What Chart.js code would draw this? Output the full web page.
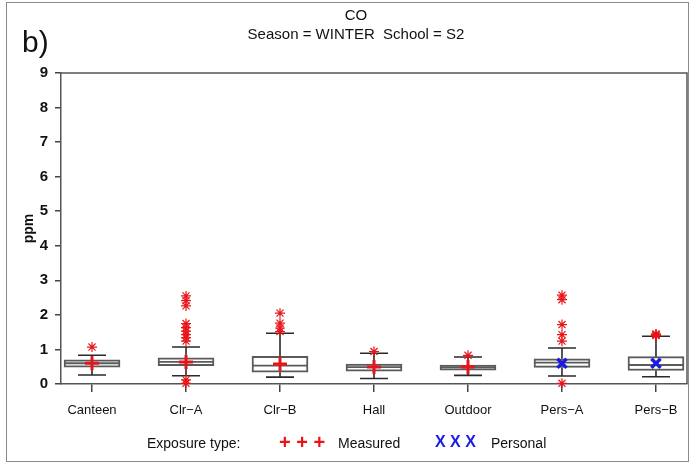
<!DOCTYPE html>
<html>
<head>
<meta charset="utf-8">
<script src="https://cdn.jsdelivr.net/npm/chart.js@4.4.1/dist/chart.umd.min.js"></script>
<style>
  html, body { margin: 0; padding: 0; background: #fff; }
  #wrap { position: relative; width: 690px; height: 465px; overflow: hidden; font-family: 'Liberation Sans', Arial, sans-serif; color: #111; }
  #frame { position: absolute; left: 6px; top: 2px; width: 683px; height: 460px; border: 1px solid #8a8a8a; box-sizing: border-box; pointer-events: none; }
  canvas { position: absolute; left: 0; top: 0; }
  .t { position: absolute; white-space: pre; }
  #title1 { left: 0; width: 712px; text-align: center; top: 6px; font-size: 15px; }
  #title2 { left: 0; width: 712px; text-align: center; top: 25px; font-size: 15px; }
  #panel { left: 22px; top: 25px; font-size: 30px; }
  #leg0 { left: 147px; top: 435px; font-size: 14px; }
  #leg1 { left: 279px; top: 431px; font-size: 20px; font-weight: bold; color: #e8141a; }
  #leg2 { left: 338px; top: 435px; font-size: 14px; }
  #leg3 { left: 435px; top: 433px; font-size: 16px; font-weight: bold; color: #1c1ce0; }
  #leg4 { left: 491px; top: 435px; font-size: 14px; }
</style>
</head>
<body>
<div id="wrap">
  <canvas id="c" width="690" height="465"></canvas>
  <div id="frame"></div>
  <div class="t" id="title1">CO</div>
  <div class="t" id="title2">Season = WINTER  School = S2</div>
  <div class="t" id="panel">b)</div>
  <div class="t" id="leg0">Exposure type:</div>
  <div class="t" id="leg1">+ + +</div>
  <div class="t" id="leg2">Measured</div>
  <div class="t" id="leg3">X X X</div>
  <div class="t" id="leg4">Personal</div>
</div>
<script>
// ---- data ----
const categories   = ['Canteen', 'Clr\u2212A', 'Clr\u2212B', 'Hall', 'Outdoor', 'Pers\u2212A', 'Pers\u2212B'];
const q1           = [0.49, 0.53, 0.34, 0.37, 0.40, 0.48, 0.39];
const medians      = [0.60, 0.64, 0.53, 0.49, 0.48, 0.62, 0.55];
const q3           = [0.70, 0.76, 0.80, 0.58, 0.55, 0.73, 0.79];
const whiskerLow   = [0.26, 0.24, 0.20, 0.16, 0.25, 0.23, 0.21];
const whiskerHigh  = [0.83, 1.07, 1.47, 0.89, 0.78, 1.04, 1.38];
const meanMeasured = [0.60, 0.64, 0.58, 0.49, 0.49, null, null];
const meanPersonal = [null, null, null, null, null, 0.60, 0.60];
const outliers = [
  [1.07],
  [2.55, 2.41, 2.26, 1.75, 1.63, 1.53, 1.43, 1.34, 1.24, 0.12, 0.02],
  [2.05, 1.76, 1.62, 1.52],
  [0.94],
  [0.83],
  [2.57, 2.44, 1.72, 1.43, 1.24, 0.02],
  [1.45, 1.42, 1.40, 1.43]
];
const yTicks = [0, 1, 2, 3, 4, 5, 6, 7, 8, 9];

// ---- build datasets ----
const toPoints = arr => arr.map((v, i) => v === null ? null : { x: i, y: v }).filter(p => p);
const outlierPts = [];
outliers.forEach((list, i) => list.forEach(v => outlierPts.push({ x: i, y: v })));
const boxPts = categories.map((c, i) => ({ x: i, y: [q1[i], q3[i]] }));

Chart.defaults.font.family = "'Liberation Sans', Arial, sans-serif";
Chart.defaults.color = '#111';

const RED = '#e8141a', BLUE = '#1c1ce0', BOXC = '#5a5a5a', WHC = '#2a2a2a';

const boxPlugin = {
  id: 'boxParts',
  afterDatasetDraw(chart, args) {
    if (args.index !== 3) return;
    const ctx = chart.ctx, xs = chart.scales.x, ys = chart.scales.y;
    const capHalf = 14, boxHalf = 28;
    ctx.save();
    categories.forEach((c, i) => {
      const x = xs.getPixelForValue(i);
      ctx.strokeStyle = WHC; ctx.lineWidth = 1.6;
      ctx.beginPath();
      ctx.moveTo(x, ys.getPixelForValue(q3[i])); ctx.lineTo(x, ys.getPixelForValue(whiskerHigh[i]));
      ctx.moveTo(x, ys.getPixelForValue(q1[i])); ctx.lineTo(x, ys.getPixelForValue(whiskerLow[i]));
      ctx.moveTo(x - capHalf, ys.getPixelForValue(whiskerHigh[i])); ctx.lineTo(x + capHalf, ys.getPixelForValue(whiskerHigh[i]));
      ctx.moveTo(x - capHalf, ys.getPixelForValue(whiskerLow[i])); ctx.lineTo(x + capHalf, ys.getPixelForValue(whiskerLow[i]));
      ctx.stroke();
      ctx.strokeStyle = BOXC; ctx.lineWidth = 1.8;
      ctx.beginPath();
      ctx.moveTo(x - boxHalf, ys.getPixelForValue(medians[i])); ctx.lineTo(x + boxHalf, ys.getPixelForValue(medians[i]));
      ctx.stroke();
    });
    ctx.restore();
  },
  afterDraw(chart) {
    const a = chart.chartArea, ctx = chart.ctx;
    ctx.save();
    ctx.strokeStyle = '#555'; ctx.lineWidth = 1.5;
    ctx.beginPath();
    ctx.moveTo(a.left, a.top); ctx.lineTo(a.right, a.top); ctx.lineTo(a.right, a.bottom);
    ctx.stroke();
    ctx.restore();
  }
};

new Chart(document.getElementById('c'), {
  type: 'bar',
  data: {
    datasets: [
      { type: 'scatter', label: 'Measured', data: toPoints(meanMeasured), pointStyle: 'cross', radius: 7, borderWidth: 3, borderColor: RED, backgroundColor: RED, clip: false },
      { type: 'scatter', label: 'Personal', data: toPoints(meanPersonal), pointStyle: 'crossRot', radius: 6.5, borderWidth: 3.5, borderColor: BLUE, backgroundColor: BLUE, clip: false },
      { type: 'scatter', label: 'Outliers', data: outlierPts, pointStyle: 'star', radius: 5, borderWidth: 1.2, borderColor: RED, backgroundColor: RED, clip: false },
      { type: 'bar', label: 'Box', data: boxPts, backgroundColor: '#ffffff', borderColor: BOXC, borderWidth: 2, borderSkipped: false, barThickness: 56, grouped: false }
    ]
  },
  options: {
    responsive: false,
    animation: false,
    layout: { autoPadding: false, padding: { left: 0, right: 3, top: 73, bottom: 41 } },
    plugins: { legend: { display: false }, tooltip: { enabled: false } },
    scales: {
      x: {
        type: 'linear', min: -0.33, max: 6.33, offset: false,
        afterBuildTicks: s => { s.ticks = categories.map((c, i) => ({ value: i })); },
        afterFit: s => { s.height = 40; s.paddingLeft = 0; s.paddingRight = 0; },
        ticks: { callback: v => categories[v], autoSkip: false, maxRotation: 0, font: { size: 13 }, color: '#111', padding: 11 },
        grid: { offset: false, drawOnChartArea: false, tickLength: 8, color: '#444', lineWidth: 1.5 },
        border: { color: '#555', width: 1.5 }
      },
      y: {
        min: 0, max: 9,
        afterBuildTicks: s => { s.ticks = yTicks.map(v => ({ value: v })); },
        afterFit: s => { s.width = 61; },
        ticks: { font: { size: 15, weight: 'bold' }, color: '#111', padding: 7 },
        grid: { drawOnChartArea: false, tickLength: 6, color: '#444', lineWidth: 1.5 },
        border: { color: '#555', width: 1.5 },
        title: { display: true, text: 'ppm', font: { size: 14, weight: 'bold' }, color: '#111', padding: { top: 21, bottom: 0 } }
      }
    }
  },
  plugins: [boxPlugin]
});
</script>
</body>
</html>
